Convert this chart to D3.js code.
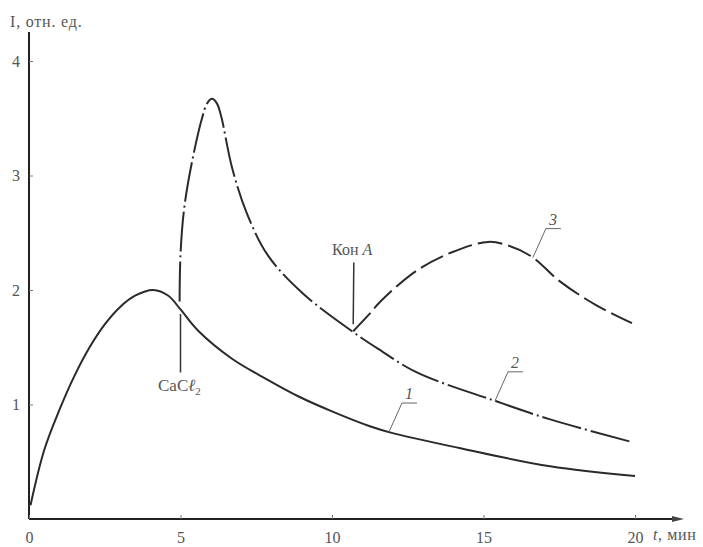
<!DOCTYPE html>
<html>
<head>
	<meta charset="UTF-8">
	<title>I(t)</title>
	<script src="https://cdn.jsdelivr.net/npm/d3@7"></script>
	<style>
		body { margin: 0; background: #fff; }
		svg text { font-family: "Liberation Serif", "DejaVu Serif", serif; fill: #555; }
	</style>
</head>
<body>
	<script>
		// data
		var curve1T = [0.05, 0.5, 1, 1.5, 2, 2.5, 3, 3.5, 4.1, 4.6, 5, 5.6, 6.7, 7.85, 8.9, 10, 11.25, 12, 14.2, 17.2, 20];
		var curve1V = [0.12, 0.6, 0.95, 1.25, 1.5, 1.7, 1.85, 1.95, 2.0, 1.95, 1.83, 1.64, 1.4, 1.22, 1.07, 0.94, 0.81, 0.75, 0.62, 0.46, 0.375];

		var curve2T = [4.97, 5.0, 5.12, 5.38, 5.71, 5.88, 6.04, 6.2, 6.34, 6.7, 7.19, 7.89, 9.04, 10.66, 11.5, 12.8, 15.4, 17.2, 19.93];
		var curve2V = [1.9, 2.31, 2.71, 3.12, 3.5, 3.63, 3.67, 3.63, 3.52, 3.07, 2.67, 2.3, 1.97, 1.64, 1.49, 1.28, 1.03, 0.87, 0.67];

		var curve3T = [10.7, 11.2, 11.6, 12.8, 13.96, 15.15, 15.8, 16.6, 17.5, 18.7, 19.9];
		var curve3V = [1.64, 1.78, 1.9, 2.17, 2.33, 2.42, 2.39, 2.29, 2.08, 1.87, 1.71];

		var xTicks = [0, 5, 10, 15, 20];
		var yTicks = [1, 2, 3, 4];
		var curveNames = ['1', '2', '3'];
		var labelAt = [11.88, 15.38, 16.63];   // t where the number leader meets each curve

		var width = 703, height = 547;
		var serif = '"Liberation Serif", "DejaVu Serif", serif';

		var x = d3.scaleLinear().domain([0, 20]).range([29, 635]);
		var y = d3.scaleLinear().domain([0, 4]).range([519, 61]);

		var svg = d3.select('body').append('svg')
			.attr('width', width)
			.attr('height', height)
			.attr('font-family', serif);

		// axes
		svg.append('line')
			.attr('x1', x(0)).attr('x2', x(0))
			.attr('y1', 32).attr('y2', y(0))
			.attr('stroke', '#222').attr('stroke-width', 2);
		svg.append('line')
			.attr('x1', x(0)).attr('x2', 678)
			.attr('y1', y(0)).attr('y2', y(0))
			.attr('stroke', '#222').attr('stroke-width', 2);
		svg.append('path')
			.attr('d', 'M672,' + (y(0) - 3) + 'L684,' + y(0) + 'L672,' + (y(0) + 3) + 'Z')
			.attr('fill', '#444');

		var gx = svg.append('g')
			.attr('transform', 'translate(0,' + y(0) + ')')
			.call(d3.axisBottom(x).tickValues(xTicks).tickSize(-4).tickPadding(10).tickFormat(d3.format('d')));
		var gy = svg.append('g')
			.attr('transform', 'translate(' + x(0) + ',0)')
			.call(d3.axisLeft(y).tickValues(yTicks).tickSize(-4).tickPadding(9).tickFormat(d3.format('d')));
		[gx, gy].forEach(function(g) {
			g.attr('font-family', serif).attr('font-size', 16);
			g.select('.domain').remove();
			g.selectAll('.tick line').attr('stroke', '#777');
			g.selectAll('.tick text').attr('fill', '#555');
		});
		gx.selectAll('.tick text').attr('dy', '0.85em');

		// axis titles
		svg.append('text')
			.attr('x', 10).attr('y', 27)
			.attr('font-size', 16)
			.attr('letter-spacing', 0.8)
			.text('I, отн. ед.');
		var tl = svg.append('text')
			.attr('x', 653).attr('y', 540)
			.attr('font-size', 16)
			.attr('letter-spacing', 0.6);
		tl.append('tspan').attr('font-style', 'italic').text('t');
		tl.append('tspan').text(', мин');

		// curves
		var line = d3.line()
			.x(function(d) { return x(d[0]); })
			.y(function(d) { return y(d[1]); })
			.curve(d3.curveCatmullRom.alpha(0.5));

		var curves = [
			{t: curve1T, v: curve1V, dash: null},
			{t: curve2T, v: curve2V, dash: '40,4,2,4'},
			{t: curve3T, v: curve3V, dash: '25,6'}
		];
		curves.forEach(function(c) {
			c.pts = c.t.map(function(t, i) { return [t, c.v[i]]; });
			svg.append('path')
				.datum(c.pts)
				.attr('d', line)
				.attr('fill', 'none')
				.attr('stroke', '#2a2a2a')
				.attr('stroke-width', 2)
				.attr('stroke-dasharray', c.dash);
		});

		function valueAt(c, t) {
			for (var i = 1; i < c.t.length; i++) {
				if (t <= c.t[i]) {
					var f = (t - c.t[i - 1]) / (c.t[i] - c.t[i - 1]);
					return c.v[i - 1] + f * (c.v[i] - c.v[i - 1]);
				}
			}
			return c.v[c.v.length - 1];
		}

		// curve numbers with leaders
		curves.forEach(function(c, i) {
			var px = x(labelAt[i]), py = y(valueAt(c, labelAt[i]));
			var kx = px + 13, ky = py - 29;
			svg.append('path')
				.attr('d', 'M' + px + ',' + py + 'L' + kx + ',' + ky + 'L' + (kx + 15) + ',' + ky)
				.attr('fill', 'none')
				.attr('stroke', '#666')
				.attr('stroke-width', 1);
			svg.append('text')
				.attr('x', kx + 7).attr('y', ky - 4)
				.attr('text-anchor', 'middle')
				.attr('font-size', 16)
				.attr('font-style', 'italic')
				.text(curveNames[i]);
		});

		// CaCl2 and Con A markers
		svg.append('line')
			.attr('x1', x(5)).attr('x2', x(5))
			.attr('y1', y(1.79)).attr('y2', y(1.28))
			.attr('stroke', '#333').attr('stroke-width', 1.5);
		var tc = svg.append('text')
			.attr('x', 158).attr('y', 391)
			.attr('font-size', 17);
		tc.append('tspan').text('CaC');
		tc.append('tspan').attr('font-style', 'italic').text('ℓ');
		tc.append('tspan').attr('dy', 4).attr('font-size', 11).text('2');

		svg.append('line')
			.attr('x1', x(10.7)).attr('x2', x(10.72))
			.attr('y1', y(1.7)).attr('y2', y(2.24))
			.attr('stroke', '#333').attr('stroke-width', 1.5);
		var tk = svg.append('text')
			.attr('x', 332).attr('y', 255)
			.attr('font-size', 16);
		tk.append('tspan').text('Кон ');
		tk.append('tspan').attr('font-style', 'italic').text('A');
	</script>
</body>
</html>
